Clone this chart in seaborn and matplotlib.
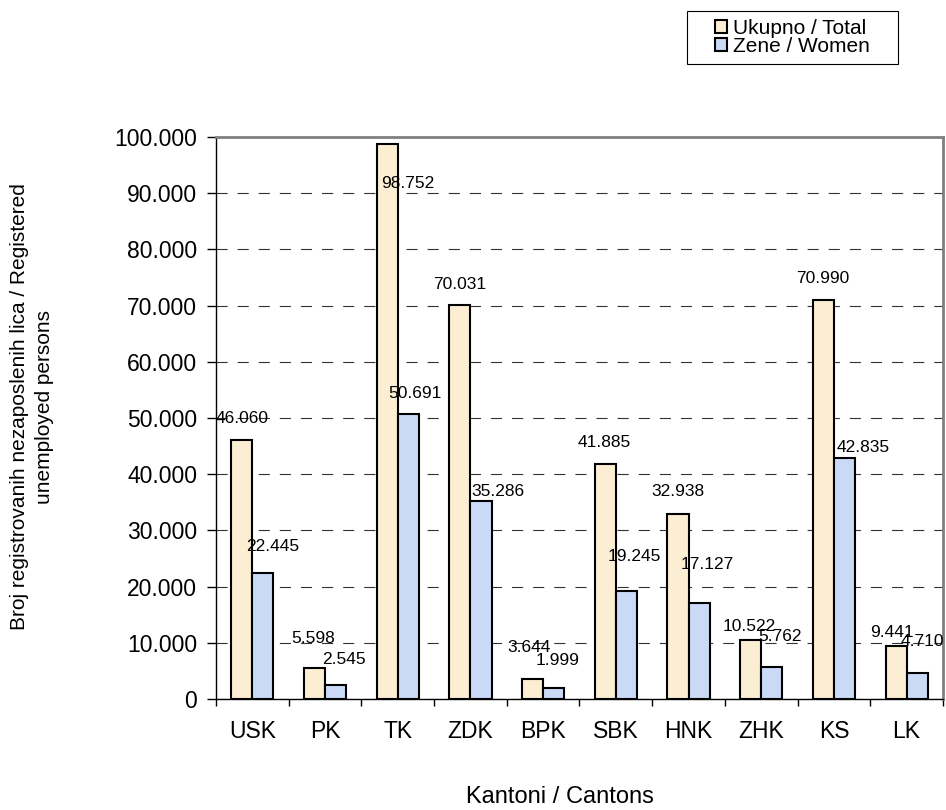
import seaborn as sns
import pandas as pd
import numpy as np
import matplotlib
matplotlib.use('Agg')
from matplotlib import pyplot as plt
from matplotlib.patches import Rectangle
from matplotlib.ticker import FuncFormatter, FixedLocator

# podaci po kantonima
kantoni = ['USK', 'PK', 'TK', 'ZDK', 'BPK', 'SBK', 'HNK', 'ZHK', 'KS', 'LK']
ukupno = [46060, 5598, 98752, 70031, 3644, 41885, 32938, 10522, 70990, 9441]
zene = [22445, 2545, 50691, 35286, 1999, 19245, 17127, 5762, 42835, 4710]
serije = ['Ukupno / Total', 'Zene / Women']

# pomak oznaka (u pikselima) od vrha stupca, kao u Excelu
pomak_ukupno = [(0, 22), (-1, 29), (21, -40), (0, 21), (-4, 31), (-1, 21), (0, 22), (-1, 13), (-1, 22), (-4, 13)]
pomak_zene = [(10, 26), (8, 25), (7, 21), (17, 9), (4, 27), (8, 34), (8, 38), (8, 30), (19, 11), (5, 31)]

boje = ['#FCEED2', '#C9D9F6']

df = pd.DataFrame({
    'Kanton': kantoni * 2,
    'Serija': [serije[0]] * len(kantoni) + [serije[1]] * len(kantoni),
    'Broj': ukupno + zene,
})

sns.set_theme(style='white')
plt.rcParams['font.family'] = ['Liberation Sans', 'DejaVu Sans']
plt.rcParams['text.color'] = 'black'
plt.rcParams['axes.labelcolor'] = 'black'
plt.rcParams['xtick.color'] = 'black'
plt.rcParams['ytick.color'] = 'black'

fig, ax = plt.subplots(figsize=(9.46, 8.10), dpi=100)
fig.subplots_adjust(left=0.2283, right=0.9968, bottom=0.137, top=0.8309)

sns.barplot(data=df, x='Kanton', y='Broj', hue='Serija', palette=boje,
            width=0.58, edgecolor='black', linewidth=1.5, errorbar=None,
            saturation=1, ax=ax)

tacka = lambda v: '{:,}'.format(int(round(v))).replace(',', '.')

for cont, pomaci in zip(ax.containers, [pomak_ukupno, pomak_zene]):
    for bar, (dx, dy) in zip(cont, pomaci):
        ax.annotate(tacka(bar.get_height()),
                    xy=(bar.get_x() + bar.get_width() / 2, bar.get_height()),
                    xytext=(dx, dy), textcoords='offset pixels',
                    ha='center', va='center', fontsize=12.5, color='black')

ax.set_ylim(0, 100000)
ax.set_xlim(-0.5, len(kantoni) - 0.5)
ax.set_yticks(range(0, 100001, 10000))
ax.yaxis.set_major_formatter(FuncFormatter(lambda v, p: tacka(v)))
ax.tick_params(axis='y', direction='out', length=6.5, width=1, color='black',
               labelsize=16.5, pad=7, left=True)
ax.set_xticks(range(len(kantoni)))
ax.set_xticklabels(kantoni)
ax.tick_params(axis='x', which='major', length=0, labelsize=16.5, pad=15)
ax.xaxis.set_minor_locator(FixedLocator(np.arange(-0.5, len(kantoni), 1)))
ax.tick_params(axis='x', which='minor', direction='out', length=5, width=1,
               color='black', bottom=True)

ax.yaxis.grid(True, linestyle=(0, (10, 9)), color='#333333', linewidth=0.8)
ax.set_axisbelow(True)

for s in ['left', 'bottom']:
    ax.spines[s].set_color('black')
    ax.spines[s].set_linewidth(1)
for s in ['top', 'right']:
    ax.spines[s].set_color('#808080')
    ax.spines[s].set_linewidth(2)

ax.set_xlabel('Kantoni / Cantons', fontsize=17)
ax.xaxis.set_label_coords(0.473, -0.174)
ax.xaxis.label.set_va('center')
ax.set_ylabel('Broj registrovanih nezaposlenih lica / Registered\nunemployed persons',
              fontsize=15, linespacing=1.4, multialignment='center')
ax.yaxis.set_label_coords(-0.253, 0.52)
ax.yaxis.label.set_va('center')

# legenda u okviru kao u originalu
handles, labels = ax.get_legend_handles_labels()
ax.get_legend().remove()
for h in handles:
    h.set_edgecolor('black')
    h.set_linewidth(1.5)
fig.legend(handles, labels, loc='center', bbox_to_anchor=(0.8377, 0.9537),
           frameon=False, fontsize=15, handlelength=0.6, handleheight=0.6,
           handletextpad=0.3, labelspacing=-0.04, borderpad=0)
fig.patches.append(Rectangle((687 / 946, 1 - 64 / 810), 211 / 946, 53 / 810,
                             transform=fig.transFigure, fill=False,
                             edgecolor='black', linewidth=0.8))

fig.savefig('out.png', dpi=100)
